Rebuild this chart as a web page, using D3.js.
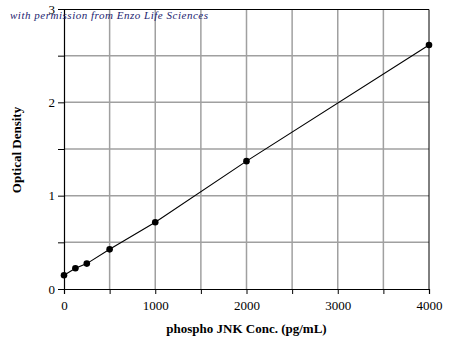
<!DOCTYPE html>
<html>
<head>
<meta charset="utf-8">
<script src="https://cdn.jsdelivr.net/npm/d3@7"></script>
<style>
  body { margin: 0; background: #fff; }
  svg { display: block; }
</style>
</head>
<body>
<div id="chart"></div>
<script>
// standard curve readings
const conc = [0, 125, 250, 500, 1000, 2000, 4000];
const od = [0.147, 0.222, 0.272, 0.425, 0.715, 1.37, 2.615];
const xTicks = [0, 1000, 2000, 3000, 4000];
const yTicks = [0, 1, 2, 3];

const margin = {top: 9, right: 21, bottom: 62, left: 64},
    width = 450 - margin.left - margin.right,
    height = 351 - margin.top - margin.bottom;

const data = conc.map((c, i) => ({x: c, y: od[i]}));

const svg = d3.select("#chart")
    .append("svg")
    .attr("width", 450).attr("height", 351)
    .append("g")
    .attr("transform", `translate(${margin.left},${margin.top})`);

const x = d3.scaleLinear().domain([0, 4000]).range([0, width]);
const y = d3.scaleLinear().domain([0, 3]).range([height, 0]);

// grid every 500 / 0.5
svg.append("g")
    .selectAll("line")
    .data(d3.range(500, 4000, 500))
    .join("line")
    .attr("x1", d => x(d)).attr("x2", d => x(d))
    .attr("y1", 0).attr("y2", height)
    .attr("stroke", "#a0a0a0").attr("stroke-width", 1.5);
svg.append("g")
    .selectAll("line")
    .data(d3.range(0.5, 3, 0.5))
    .join("line")
    .attr("x1", 0).attr("x2", width)
    .attr("y1", d => y(d)).attr("y2", d => y(d))
    .attr("stroke", "#a0a0a0").attr("stroke-width", 1.5);

// frame top/right
svg.append("path")
    .attr("d", `M0,0.5H${width}V${height}`)
    .attr("fill", "none").attr("stroke", "#000").attr("stroke-width", 1);

const xAxis = svg.append("g")
    .attr("transform", `translate(0,${height})`)
    .call(d3.axisBottom(x).tickValues(d3.range(0, 4001, 500)).tickSize(5)
        .tickFormat(d => xTicks.includes(d) ? d : ""));
const yAxis = svg.append("g")
    .call(d3.axisLeft(y).tickValues(d3.range(0, 3.01, 0.5)).tickSize(6)
        .tickFormat(d => yTicks.includes(d) ? d : ""));

[xAxis, yAxis].forEach(a => {
    a.select(".domain").attr("stroke", "#000").attr("stroke-width", 1.2);
    a.selectAll(".tick line").attr("stroke", "#000");
    a.selectAll("text")
        .style("font-family", "'Liberation Serif', serif")
        .style("font-size", "13px")
        .attr("fill", "#000");
});
xAxis.selectAll("text").attr("dy", "1em");
yAxis.selectAll("text").attr("x", -9);

svg.append("path")
    .datum(data)
    .attr("fill", "none")
    .attr("stroke", "#000")
    .attr("stroke-width", 1.1)
    .attr("d", d3.line().x(d => x(d.x)).y(d => y(d.y)));

svg.selectAll("circle")
    .data(data)
    .join("circle")
    .attr("cx", d => x(d.x))
    .attr("cy", d => y(d.y))
    .attr("r", 3.3)
    .attr("fill", "#000");

svg.append("text")
    .attr("x", width / 2)
    .attr("y", height + 44)
    .attr("text-anchor", "middle")
    .style("font-family", "'Liberation Serif', serif")
    .style("font-weight", "bold")
    .style("font-size", "13px")
    .text("phospho JNK Conc. (pg/mL)");

svg.append("text")
    .attr("transform", `translate(${-43},${height / 2 + 1})rotate(-90)`)
    .attr("text-anchor", "middle")
    .style("font-family", "'Liberation Serif', serif")
    .style("font-weight", "bold")
    .style("font-size", "13px")
    .text("Optical Density");

// permission note
d3.select("svg").append("text")
    .attr("x", 10).attr("y", 19)
    .style("font-family", "'Liberation Serif', serif")
    .style("font-style", "italic")
    .style("font-size", "11px")
    .attr("fill", "#1c2470")
    .attr("textLength", 198)
    .text("with permission from Enzo Life Sciences");
</script>
</body>
</html>
